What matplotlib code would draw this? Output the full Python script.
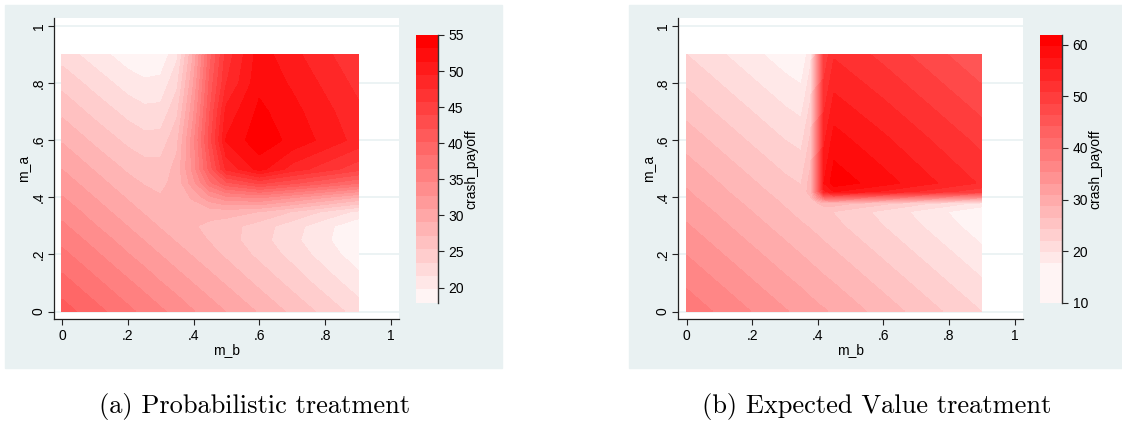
import numpy as np
import matplotlib
matplotlib.use("Agg")
import matplotlib.pyplot as plt
from matplotlib.patches import Rectangle

plt.rcParams['font.family'] = ['Liberation Sans', 'DejaVu Sans']

mb_a = [0, .1, .2, .25, .3, .35, .4, .45, .5, .6, .7, .8, .9]
ma_a = [0, .1, .2, .25, .3, .35, .4, .45, .5, .6, .7, .8, .9]
# crash_payoff, probabilistic treatment (rows = m_a, cols = m_b)
z_prob = [
    [41.0, 39.0, 36.9, 35.9, 34.9, 33.9, 32.8, 31.8, 30.8, 28.8, 26.7, 24.7, 22.6],
    [39.0, 36.9, 34.9, 33.9, 32.8, 31.8, 30.8, 29.8, 28.8, 26.7, 24.7, 22.6, 20.6],
    [36.9, 34.9, 32.8, 31.8, 30.8, 29.8, 28.8, 27.8, 26.8, 24.8, 22.8, 20.7, 18.7],
    [35.9, 33.9, 31.8, 30.8, 29.8, 28.8, 27.9, 27.0, 26.1, 24.2, 22.1, 20.1, 18.0],
    [34.9, 32.8, 30.8, 29.8, 28.8, 28.0, 27.3, 26.7, 26.1, 24.4, 22.4, 20.3, 18.3],
    [33.9, 31.8, 29.8, 28.8, 27.9, 27.4, 27.5, 27.9, 28.0, 27.1, 25.2, 23.1, 21.1],
    [32.8, 30.8, 28.8, 27.9, 27.3, 27.5, 29.4, 32.1, 33.9, 34.7, 32.8, 30.8, 28.8],
    [31.8, 29.8, 27.8, 27.0, 26.7, 27.8, 32.0, 37.5, 41.4, 44.1, 42.3, 40.3, 38.3],
    [30.8, 28.8, 26.8, 26.1, 26.0, 27.8, 33.5, 41.0, 48.0, 52.0, 48.6, 46.6, 44.6],
    [28.8, 26.7, 24.8, 24.1, 24.2, 26.7, 33.9, 43.0, 51.5, 54.3, 52.6, 50.7, 48.7],
    [26.7, 24.7, 22.8, 22.1, 22.2, 24.9, 32.4, 41.9, 50.0, 53.6, 51.9, 50.0, 48.0],
    [24.7, 22.7, 20.7, 20.1, 20.3, 23.0, 30.8, 40.7, 47.5, 52.6, 51.0, 49.0, 47.0],
    [22.6, 20.6, 18.7, 18.0, 18.3, 21.2, 29.2, 39.4, 46.4, 52.2, 50.0, 48.0, 46.0],
]

mb_b = [0, .15, .3, .35, .38, .40, .42, .45, .6, .75, .9]
ma_b = [0, .15, .3, .35, .38, .40, .42, .45, .6, .75, .9]
# crash_payoff, expected value treatment
z_ev = [
    [39.0, 36.2, 33.3, 32.4, 31.8, 31.4, 31.1, 30.5, 27.7, 24.8, 22.0],
    [36.2, 33.3, 30.5, 29.6, 29.0, 28.6, 28.2, 27.7, 24.8, 22.0, 19.2],
    [33.3, 30.5, 27.7, 26.7, 26.2, 25.8, 25.4, 24.8, 22.0, 19.2, 16.3],
    [32.4, 29.6, 26.7, 25.8, 25.2, 24.9, 24.6, 24.1, 21.3, 18.4, 15.6],
    [31.8, 29.0, 26.2, 25.2, 25.1, 26.4, 27.7, 27.6, 24.8, 21.9, 19.1],
    [31.4, 28.6, 25.8, 24.9, 26.4, 33.7, 41.1, 42.5, 39.8, 37.0, 34.1],
    [31.1, 28.2, 25.4, 24.6, 27.7, 41.1, 54.4, 57.5, 54.8, 52.0, 49.2],
    [30.5, 27.7, 24.8, 24.1, 27.6, 42.5, 57.5, 61.0, 58.4, 55.5, 52.7],
    [27.7, 24.8, 22.0, 21.3, 24.8, 39.8, 54.8, 58.4, 55.7, 52.9, 50.1],
    [24.8, 22.0, 19.2, 18.4, 21.9, 37.0, 52.0, 55.5, 52.9, 50.1, 47.2],
    [22.0, 19.2, 16.3, 15.6, 19.1, 34.1, 49.2, 52.7, 50.1, 47.2, 44.4],
]

ticks = [0, .2, .4, .6, .8, 1]
tick_labels = ['0', '.2', '.4', '.6', '.8', '1']
cb_ticks_prob = [20, 25, 30, 35, 40, 45, 50, 55]
cb_ticks_ev = [10, 20, 30, 40, 50, 60]
captions = ['(a) Probabilistic treatment', '(b) Expected Value treatment']

W, H = 1122, 425
BG = '#e9f1f2'


def box(l, t, r, b):
    return [l / W, 1 - b / H, (r - l) / W, (b - t) / H]


def ramp(n):
    gb = np.linspace(244, 0, n) / 255
    return [(1.0, g, g) for g in gb]


fig = plt.figure(figsize=(W / 100, H / 100), dpi=100)
fig.patches.append(Rectangle((5 / W, 1 - 368 / H), 497 / W, 363 / H,
                             transform=fig.transFigure, color=BG, zorder=-10))
fig.patches.append(Rectangle((629 / W, 1 - 368 / H), 493 / W, 363 / H,
                             transform=fig.transFigure, color=BG, zorder=-10))


def panel(ax_box, cax_box, lab_x, mb, ma, z, levels, cbt):
    ax = fig.add_axes(box(*ax_box))
    ax.set_facecolor('white')
    ax.set_axisbelow(True)
    ax.yaxis.grid(True, color=BG, lw=1.2)
    cols = ramp(len(levels) - 1)
    cs = ax.contourf(mb, ma, z, levels=levels, colors=cols)
    cs.set_edgecolor('face')
    cs.set_linewidth(0.4)
    ax.set_xlim(-0.025, 1.025)
    ax.set_ylim(-0.026, 1.028)
    ax.set_xticks(ticks, tick_labels)
    ax.set_yticks(ticks, tick_labels)
    ax.tick_params(axis='both', direction='out', length=4, width=0.8,
                   labelsize=10, color='#222222')
    ax.tick_params(axis='y', labelrotation=90, pad=2)
    for t in ax.get_yticklabels():
        t.set_va('center')
    for s in ['top', 'right']:
        ax.spines[s].set_visible(False)
    for s in ['left', 'bottom']:
        ax.spines[s].set_color('#222222')
        ax.spines[s].set_linewidth(0.9)
    ax.set_xlabel('m_b', fontsize=10, labelpad=0)
    ax.set_ylabel('m_a', fontsize=10, labelpad=1)

    cax = fig.add_axes(box(*cax_box))
    cb = fig.colorbar(cs, cax=cax, spacing='proportional', ticks=cbt)
    cb.outline.set_visible(False)
    cax.plot([1, 1], [0, 1], transform=cax.transAxes, color='#333333',
             lw=1, clip_on=False)
    cax.tick_params(direction='out', length=4, width=0.8, labelsize=10,
                    color='#222222')
    fig.text(lab_x / W, 1 - 169 / H, 'crash_payoff', rotation=90,
             ha='center', va='center', fontsize=10)


panel((54, 18, 399, 319), (416, 35, 437.7, 302.7), 471,
      mb_a, ma_a, z_prob, np.linspace(17.9, 55, 21), cb_ticks_prob)
panel((678.3, 17.7, 1022.7, 319), (1040, 35, 1062.3, 302.7), 1095,
      mb_b, ma_b, z_ev, np.concatenate([[10], np.linspace(17.6, 61.9, 21)]),
      cb_ticks_ev)

fig.text(255 / W, 1 - 407 / H, captions[0], family='cmr10', fontsize=19,
         ha='center', va='center')
fig.text(877 / W, 1 - 407 / H, captions[1], family='cmr10', fontsize=19,
         ha='center', va='center')

fig.savefig('out.png', dpi=100)
